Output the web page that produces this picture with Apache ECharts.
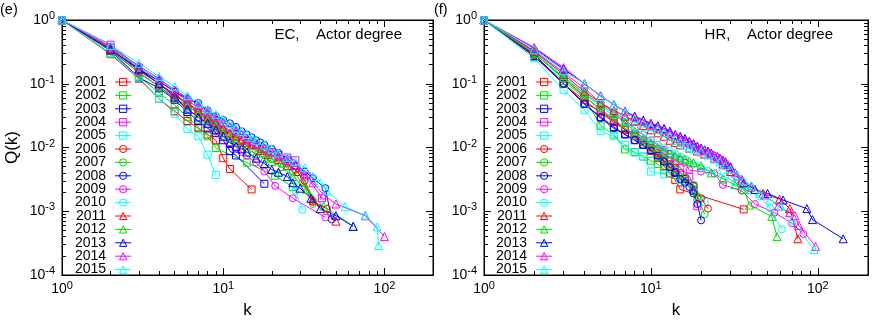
<!DOCTYPE html>
<html><head><meta charset="utf-8">
<script src="https://cdn.jsdelivr.net/npm/echarts@6/dist/echarts.min.js"></script>
<style>html,body{margin:0;padding:0;background:#fff}#c{width:872px;height:324px}</style>
</head><body><div id="c"></div>
<script>
const years = ['2001','2002','2003','2004','2005','2006','2007','2008','2009','2010','2011','2012','2013','2014','2015'];
const palette = ['#ff0000','#00e000','#0000ff','#ff00ff','#00ffff'];
const markerTypes = ['rect','circle','triangle'];
const xMajorTicks = [1,10,100];
const xMinorTicks = [2,3,4,5,6,7,8,9,20,30,40,50,60,70,80,90,200];
const yMajorTicks = [0.0001,0.001,0.01,0.1,1];
const yMinorTicks = [0.0002,0.0003,0.0004,0.0005,0.0006,0.0007,0.0008,0.0009,0.002,0.003,0.004,0.005,0.006,0.007,0.008,0.009,0.02,0.03,0.04,0.05,0.06,0.07,0.08,0.09,0.2,0.3,0.4,0.5,0.6,0.7,0.8,0.9];
const panelTitles = ['EC,    Actor degree','HR,    Actor degree'];
const panelLetters = ['(e)','(f)'];

// EC panel
const ec2001 = [[1,1],[2,0.29],[3,0.12],[4,0.058],[5,0.037],[6,0.026],[7,0.02],[8,0.016],[9,0.013],[10,0.0068],[11,0.0046],[15,0.0022]];
const ec2002 = [[1,1],[2,0.3],[3,0.13],[4,0.072],[5,0.046],[6,0.03],[7,0.021],[8,0.015],[9,0.0098],[14,0.0058],[21,0.0036],[27,0.0024]];
const ec2003 = [[1,1],[2,0.33],[3,0.125],[4,0.085],[5,0.056],[6,0.036],[7,0.026],[8,0.02],[9,0.017],[10,0.013],[11,0.0088],[12,0.0075],[18,0.0027]];
const ec2004 = [[1,1],[2,0.41],[3,0.18],[4,0.11],[5,0.074],[6,0.055],[7,0.042],[8,0.032],[9,0.026],[10,0.021],[12,0.016],[14,0.013],[16,0.011],[18,0.0095],[20,0.0085],[22,0.0077],[25,0.007],[28,0.0063],[33,0.0035],[41,0.0016]];
const ec2005 = [[1,1],[2,0.3],[3,0.125],[4,0.058],[5,0.034],[6,0.0195],[7,0.015],[8,0.0077],[9,0.0037]];
const ec2006 = [[1,1],[2,0.35],[3,0.16],[4,0.1],[5,0.066],[6,0.048],[7,0.036],[8,0.028],[9,0.023],[10,0.019],[11,0.016],[12,0.0145],[13,0.013],[15,0.011],[17,0.0093],[19,0.0082],[22,0.007],[25,0.0056],[28,0.0045],[32,0.003],[36,0.0014],[44,0.0011]];
const ec2007 = [[1,1],[2,0.34],[3,0.15],[4,0.09],[5,0.06],[6,0.045],[7,0.034],[8,0.027],[9,0.022],[10,0.018],[11,0.015],[12,0.013],[14,0.011],[16,0.009],[18,0.0076],[20,0.0066],[23,0.0055],[27,0.0042],[31,0.0028],[36,0.0013]];
const ec2008 = [[1,1],[2,0.38],[3,0.17],[4,0.11],[5,0.075],[6,0.058],[7,0.05],[8,0.038],[9,0.031],[10,0.027],[11,0.024],[12,0.021],[13,0.018],[14,0.016],[15,0.0145],[16,0.013],[17,0.012],[18,0.011],[20,0.0095],[22,0.0082],[25,0.0066],[28,0.0052],[32,0.0042],[36,0.0033],[43,0.0023],[47,0.00075]];
const ec2009 = [[1,1],[2,0.33],[3,0.15],[4,0.09],[5,0.058],[6,0.04],[7,0.03],[8,0.023],[9,0.018],[10,0.015],[11,0.012],[12,0.01],[13,0.0085],[14,0.0075],[16,0.0058],[18,0.0042],[21,0.0025],[27,0.0016],[43,0.0008]];
const ec2010 = [[1,1],[2,0.37],[3,0.18],[4,0.115],[5,0.08],[6,0.06],[7,0.046],[8,0.036],[9,0.03],[10,0.025],[11,0.021],[12,0.018],[13,0.016],[14,0.014],[15,0.013],[16,0.012],[18,0.01],[20,0.0085],[22,0.0072],[25,0.0055],[28,0.0021],[31,0.00105]];
const ec2011 = [[1,1],[2,0.36],[3,0.165],[4,0.1],[5,0.068],[6,0.05],[7,0.038],[8,0.03],[9,0.025],[10,0.02],[11,0.017],[12,0.015],[13,0.013],[14,0.012],[15,0.011],[17,0.009],[19,0.0078],[22,0.0065],[25,0.0052],[29,0.0042],[36,0.0015],[50,0.0007]];
const ec2012 = [[1,1],[2,0.33],[3,0.15],[4,0.09],[5,0.06],[6,0.045],[7,0.034],[8,0.027],[9,0.021],[10,0.017],[11,0.014],[12,0.012],[14,0.0095],[16,0.008],[18,0.0068],[20,0.006],[23,0.005],[27,0.0035],[33,0.0022],[42,0.0012],[64,0.00058]];
const ec2013 = [[1,1],[2,0.34],[3,0.17],[4,0.1],[5,0.062],[6,0.04],[7,0.03],[8,0.024],[9,0.019],[10,0.015],[11,0.012],[12,0.0105],[13,0.0095],[14,0.0085],[16,0.0068],[18,0.0056],[20,0.0045],[22,0.0041],[25,0.0035],[27,0.0028],[30,0.0023],[35,0.0016],[40,0.0011],[50,0.00085],[64,0.00058]];
const ec2014 = [[1,1],[2,0.38],[3,0.19],[4,0.12],[5,0.08],[6,0.06],[7,0.046],[8,0.036],[9,0.03],[10,0.025],[11,0.021],[12,0.018],[13,0.016],[14,0.014],[15,0.0125],[16,0.0115],[18,0.0098],[20,0.0085],[22,0.0074],[25,0.0062],[28,0.0052],[32,0.0038],[36,0.0028],[42,0.0018],[50,0.0013],[76,0.00085],[100,0.0004]];
const ec2015 = [[1,1],[2,0.4],[3,0.21],[4,0.13],[5,0.09],[6,0.065],[7,0.05],[8,0.04],[9,0.033],[10,0.028],[11,0.024],[12,0.02],[13,0.018],[14,0.016],[15,0.0145],[16,0.013],[18,0.011],[20,0.0095],[22,0.0082],[25,0.007],[28,0.006],[32,0.0048],[36,0.0035],[40,0.0028],[44,0.0021],[57,0.00118],[76,0.00087],[90,0.00057],[92,0.00029]];

// HR panel
const hr2001 = [[1,1],[2,0.27],[3,0.1],[4,0.05],[5,0.037],[6,0.026],[7,0.019],[8,0.015],[9,0.011],[10,0.0088],[11,0.0068],[12,0.0051],[13,0.0039],[14,0.0031],[15,0.0022],[36,0.00107]];
const hr2002 = [[1,1],[2,0.27],[3,0.11],[4,0.06],[5,0.022],[6,0.016],[7,0.0093],[8,0.0085],[9,0.0072],[10,0.0062],[11,0.0055],[12,0.0045],[14,0.0037],[16,0.003],[18,0.0022],[19,0.0016]];
const hr2003 = [[1,1],[2,0.27],[3,0.1],[4,0.048],[5,0.03],[6,0.021],[7,0.016],[8,0.013],[9,0.011],[10,0.0092],[11,0.0075],[12,0.0062],[13,0.005],[14,0.0041],[16,0.0032],[18,0.0021]];
const hr2004 = [[1,1],[2,0.3],[3,0.12],[4,0.065],[5,0.038],[6,0.027],[7,0.02],[8,0.016],[9,0.013],[10,0.011],[11,0.0093],[12,0.008],[13,0.0068],[14,0.0058],[15,0.0048],[17,0.0035],[18,0.0025],[19,0.0012]];
const hr2005 = [[1,1],[2,0.25],[3,0.079],[4,0.039],[5,0.018],[6,0.015],[7,0.011],[8,0.0083],[9,0.0072],[10,0.0042],[12,0.0038],[15,0.0031],[18,0.0024],[21,0.0014]];
const hr2006 = [[1,1],[2,0.28],[3,0.1],[4,0.055],[5,0.035],[6,0.025],[7,0.019],[8,0.015],[9,0.012],[10,0.01],[11,0.0082],[12,0.0068],[13,0.0055],[14,0.0048],[15,0.004],[16,0.0033],[18,0.0025],[20,0.0016],[22,0.0011]];
const hr2007 = [[1,1],[2,0.3],[3,0.12],[4,0.062],[5,0.04],[6,0.028],[7,0.02],[8,0.015],[9,0.012],[10,0.0095],[11,0.0078],[12,0.0064],[13,0.0052],[14,0.0045],[16,0.0034],[18,0.0026],[19,0.0017],[21,0.0009]];
const hr2008 = [[1,1],[2,0.29],[3,0.1],[4,0.048],[5,0.029],[6,0.02],[7,0.016],[8,0.013],[9,0.011],[10,0.009],[11,0.0075],[12,0.006],[13,0.0049],[14,0.004],[15,0.0032],[16,0.0028],[17,0.0024],[18,0.0019],[19,0.0013],[20,0.00072]];
const hr2009 = [[1,1],[2,0.33],[3,0.15],[4,0.085],[5,0.05],[6,0.036],[7,0.027],[8,0.02],[9,0.016],[10,0.013],[11,0.011],[12,0.0092],[13,0.008],[14,0.007],[15,0.0064],[16,0.0058],[17,0.0044],[20,0.0042],[24,0.0039],[27,0.0026],[35,0.0021],[42,0.0013],[55,0.00095],[70,0.00065],[82,0.00044]];
const hr2010 = [[1,1],[2,0.31],[3,0.13],[4,0.07],[5,0.043],[6,0.032],[7,0.025],[8,0.02],[9,0.016],[10,0.013],[11,0.011],[12,0.0098],[13,0.0088],[14,0.008],[15,0.0072],[16,0.0065],[18,0.0055],[20,0.0048],[22,0.0043],[25,0.004],[28,0.0035],[32,0.0028],[38,0.0021],[45,0.0017],[52,0.0011],[61,0.00052]];
const hr2011 = [[1,1],[2,0.32],[3,0.14],[4,0.075],[5,0.05],[6,0.038],[7,0.031],[8,0.026],[9,0.022],[10,0.019],[11,0.017],[12,0.015],[13,0.013],[14,0.012],[15,0.011],[17,0.0098],[19,0.0088],[21,0.0079],[24,0.0068],[27,0.0055],[30,0.0042],[35,0.003],[40,0.0024],[47,0.0019],[59,0.00155],[68,0.0011],[76,0.00037]];
const hr2012 = [[1,1],[2,0.3],[3,0.125],[4,0.07],[5,0.047],[6,0.034],[7,0.025],[8,0.018],[9,0.014],[10,0.012],[11,0.01],[12,0.0088],[13,0.008],[14,0.0074],[15,0.0069],[16,0.0065],[17,0.0061],[18,0.0058],[20,0.0052],[23,0.004],[27,0.0032],[32,0.0026],[36,0.0022],[39,0.00125],[53,0.00083],[57,0.0004]];
const hr2013 = [[1,1],[2,0.36],[3,0.17],[4,0.1],[5,0.064],[6,0.047],[7,0.037],[8,0.031],[9,0.027],[10,0.024],[11,0.022],[12,0.02],[13,0.018],[14,0.016],[15,0.015],[16,0.0138],[17,0.0125],[18,0.0115],[19,0.0105],[20,0.0098],[21,0.0092],[22,0.0088],[23,0.0082],[24,0.0076],[25,0.0072],[26,0.0068],[27,0.0063],[28,0.0058],[30,0.005],[33,0.0036],[36,0.0028],[42,0.0022],[50,0.0019],[62,0.0015],[86,0.0011],[93,0.00074],[142,0.00037]];
const hr2014 = [[1,1],[2,0.37],[3,0.18],[4,0.1],[5,0.065],[6,0.047],[7,0.037],[8,0.03],[9,0.026],[10,0.023],[11,0.021],[12,0.019],[13,0.017],[14,0.0155],[15,0.0142],[16,0.013],[17,0.012],[18,0.011],[19,0.0102],[20,0.0095],[21,0.009],[22,0.0085],[23,0.008],[24,0.0076],[25,0.0072],[26,0.0068],[27,0.0064],[28,0.006],[29,0.0054],[30,0.0048],[32,0.004],[35,0.0032],[40,0.0025],[48,0.0018],[58,0.0012],[68,0.00095],[73,0.00085],[77,0.0006],[97,0.00028]];
const hr2015 = [[1,1],[2,0.35],[3,0.16],[4,0.1],[5,0.063],[6,0.047],[7,0.036],[8,0.028],[9,0.024],[10,0.021],[11,0.019],[12,0.017],[13,0.015],[14,0.013],[15,0.012],[16,0.011],[17,0.01],[18,0.0095],[20,0.0085],[22,0.0076],[24,0.0066],[26,0.006],[28,0.0052],[30,0.0045],[33,0.0036],[36,0.003],[40,0.0025],[45,0.0019],[52,0.0015],[60,0.0012],[70,0.00073],[95,0.00025]];

const ecData = [ec2001,ec2002,ec2003,ec2004,ec2005,ec2006,ec2007,ec2008,ec2009,ec2010,ec2011,ec2012,ec2013,ec2014,ec2015];
const hrData = [hr2001,hr2002,hr2003,hr2004,hr2005,hr2006,hr2007,hr2008,hr2009,hr2010,hr2011,hr2012,hr2013,hr2014,hr2015];
const panels = [ecData, hrData];

const FONT = "'Liberation Sans', Arial, Helvetica, sans-serif";
const grids = [
  {left: 62, top: 20, width: 371, height: 256},
  {left: 484, top: 20, width: 384, height: 256}
];

function supLabel(v) {
  const e = Math.round(Math.log10(v));
  return '{b|10}{s|' + e + '}';
}
const richLabel = {
  b: {fontSize: 14, fontFamily: FONT, color: '#000'},
  s: {fontSize: 11, fontFamily: FONT, color: '#000', padding: [0, 0, 8, 0]}
};

const xAxes = [], yAxes = [];
grids.forEach((g, gi) => {
  const xBase = {gridIndex: gi, type: 'log', logBase: 10, min: 1, max: 200, splitLine: {show: false},
    axisLine: {show: true, lineStyle: {color: '#000', width: 1}}, minorTick: {show: false}};
  const yBase = {gridIndex: gi, type: 'log', logBase: 10, min: 0.0001, max: 1, splitLine: {show: false},
    axisLine: {show: true, lineStyle: {color: '#000', width: 1}}, minorTick: {show: false}};
  xAxes.push(Object.assign({}, xBase, {position: 'bottom',
    name: 'k', nameLocation: 'middle', nameGap: 27,
    nameTextStyle: {fontSize: 17, fontFamily: FONT, color: '#000'},
    axisTick: {show: true, inside: true, length: 7, customValues: xMajorTicks, lineStyle: {color: '#000'}},
    axisLabel: {show: true, margin: 5, customValues: xMajorTicks, formatter: supLabel, rich: richLabel}}));
  xAxes.push(Object.assign({}, xBase, {position: 'bottom',
    axisTick: {show: true, inside: true, length: 4, customValues: xMinorTicks, lineStyle: {color: '#000'}},
    axisLabel: {show: false}}));
  xAxes.push(Object.assign({}, xBase, {position: 'top',
    axisTick: {show: true, inside: true, length: 7, customValues: xMajorTicks, lineStyle: {color: '#000'}},
    axisLabel: {show: false}}));
  xAxes.push(Object.assign({}, xBase, {position: 'top',
    axisTick: {show: true, inside: true, length: 4, customValues: xMinorTicks, lineStyle: {color: '#000'}},
    axisLabel: {show: false}}));

  const yMain = Object.assign({}, yBase, {position: 'left',
    axisTick: {show: true, inside: true, length: 7, customValues: yMajorTicks, lineStyle: {color: '#000'}},
    axisLabel: {show: true, margin: 7, customValues: yMajorTicks, formatter: supLabel, rich: richLabel}});
  if (gi === 0) {
    yMain.name = 'Q(k)';
    yMain.nameLocation = 'middle';
    yMain.nameGap = 41;
    yMain.nameTextStyle = {fontSize: 17, fontFamily: FONT, color: '#000'};
  }
  yAxes.push(yMain);
  yAxes.push(Object.assign({}, yBase, {position: 'left',
    axisTick: {show: true, inside: true, length: 4, customValues: yMinorTicks, lineStyle: {color: '#000'}},
    axisLabel: {show: false}}));
  yAxes.push(Object.assign({}, yBase, {position: 'right',
    axisTick: {show: true, inside: true, length: 7, customValues: yMajorTicks, lineStyle: {color: '#000'}},
    axisLabel: {show: false}}));
  yAxes.push(Object.assign({}, yBase, {position: 'right',
    axisTick: {show: true, inside: true, length: 4, customValues: yMinorTicks, lineStyle: {color: '#000'}},
    axisLabel: {show: false}}));
});

const series = [];
panels.forEach((pdata, gi) => {
  pdata.forEach((d, i) => {
    const c = palette[i % 5];
    const sym = markerTypes[Math.floor(i / 5)];
    series.push({
      type: 'line', name: years[i], xAxisIndex: gi * 4, yAxisIndex: gi * 4,
      data: d, symbol: sym, symbolSize: sym === 'triangle' ? 8 : 7, showSymbol: true,
      lineStyle: {color: c, width: 1},
      itemStyle: {color: 'rgba(255,255,255,0)', borderColor: c, borderWidth: 1},
      emphasis: {disabled: true}, animation: false, clip: true
    });
  });
});

const legendItems = years.map((y, i) => ({
  name: y,
  itemStyle: {color: 'rgba(255,255,255,0)', borderColor: palette[i % 5], borderWidth: 1},
  lineStyle: {color: palette[i % 5], width: 1}
}));

const legendBase = {
  orient: 'vertical', align: 'right', itemWidth: 16, itemHeight: 9, itemGap: -0.6,
  selectedMode: false, data: legendItems,
  itemStyle: {color: 'rgba(255,255,255,0)', borderWidth: 1},
  textStyle: {fontSize: 14, fontFamily: FONT, color: '#000', padding: [0, 4, 0, 0]}
};

const option = {
  backgroundColor: '#fff',
  animation: false,
  grid: grids.map(g => Object.assign({show: true, borderColor: '#000', borderWidth: 1, backgroundColor: 'transparent', containLabel: false}, g)),
  xAxis: xAxes,
  yAxis: yAxes,
  legend: [
    Object.assign({}, legendBase, {left: 70, top: 70}),
    Object.assign({}, legendBase, {left: 491, top: 70})
  ],
  graphic: [
    {type: 'text', x: 402, y: 35, style: {text: panelTitles[0], align: 'right', verticalAlign: 'middle', textAlign: 'right', textVerticalAlign: 'middle', font: '15px ' + FONT, fill: '#000'}},
    {type: 'text', x: 833, y: 35, style: {text: panelTitles[1], align: 'right', verticalAlign: 'middle', textAlign: 'right', textVerticalAlign: 'middle', font: '15px ' + FONT, fill: '#000'}},
    {type: 'text', x: 0, y: 10, style: {text: panelLetters[0], verticalAlign: 'middle', textVerticalAlign: 'middle', font: '14.5px ' + FONT, fill: '#000'}},
    {type: 'text', x: 434, y: 10, style: {text: panelLetters[1], verticalAlign: 'middle', textVerticalAlign: 'middle', font: '14.5px ' + FONT, fill: '#000'}}
  ],
  series: series
};
const chart = echarts.init(document.getElementById('c'), null, {renderer: 'canvas'});
chart.setOption(option);
</script></body></html>
